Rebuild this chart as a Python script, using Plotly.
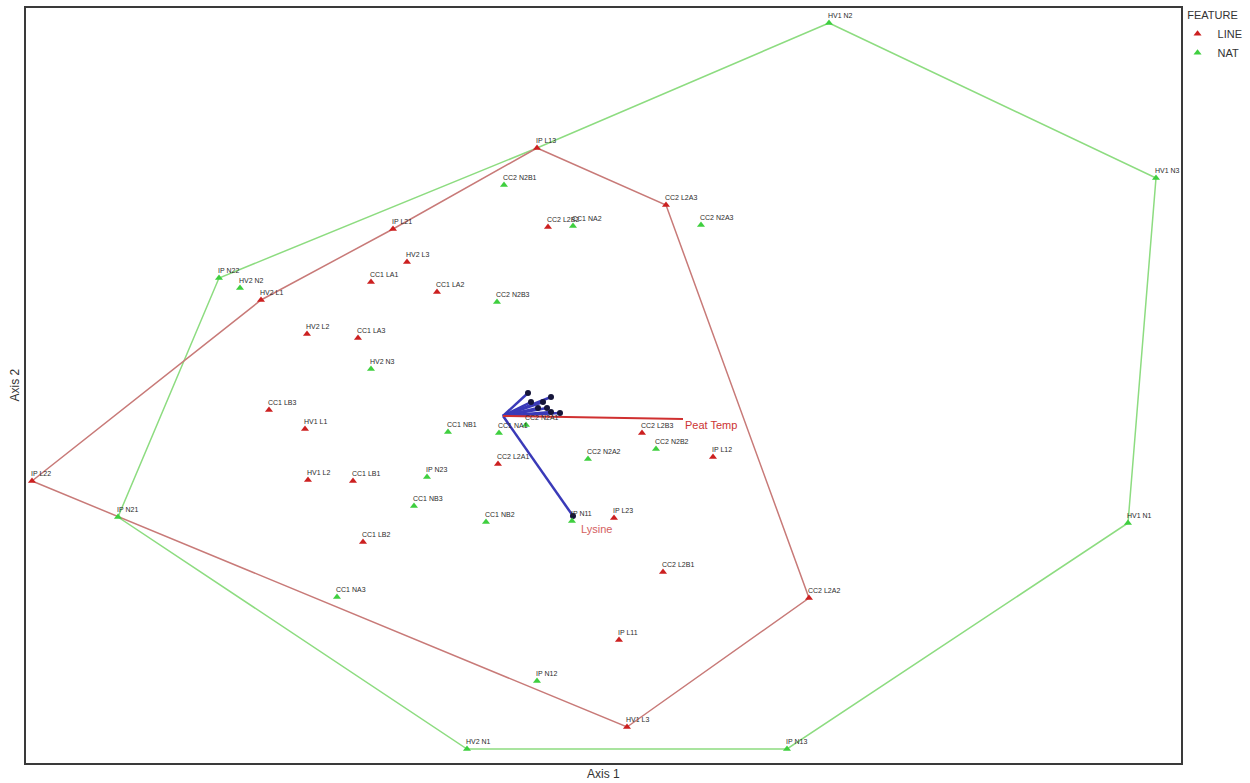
import plotly.graph_objects as go

# ---- data (ordination scores, Axis 1 / Axis 2) ----
line_names = ["IP L13", "CC2 L2A3", "IP L21", "CC2 L2B2", "HV2 L3", "CC1 LA1", "CC1 LA2",
              "HV2 L1", "HV2 L2", "CC1 LA3", "CC1 LB3", "HV1 L1", "HV1 L2", "CC1 LB1",
              "CC1 LB2", "CC2 L2B3", "IP L12", "CC2 L2A1", "IP L23", "IP L22", "CC2 L2B1",
              "CC2 L2A2", "IP L11", "HV1 L3"]
line_x = [0.34, 1.63, -1.10, 0.45, -0.96, -1.32, -0.66, -2.42, -1.96, -1.45, -2.34, -1.98,
          -1.95, -1.50, -1.40, 1.39, 2.10, -0.05, 1.11, -4.71, 1.60, 3.06, 1.16, 1.24]
line_y = [2.66, 2.09, 1.85, 1.87, 1.52, 1.32, 1.22, 1.14, 0.80, 0.76, 0.04, -0.15, -0.66,
          -0.67, -1.28, -0.19, -0.43, -0.50, -1.04, -0.67, -1.58, -1.84, -2.26, -3.13]

nat_names = ["HV1 N2", "HV1 N3", "CC2 N2B1", "CC1 NA2", "CC2 N2A3", "IP N22", "HV2 N2",
             "CC2 N2B3", "HV2 N3", "CC1 NB1", "CC1 NA1", "CC2 N2A1", "CC2 N2B2", "CC2 N2A2",
             "IP N23", "CC1 NB3", "CC1 NB2", "IP N11", "IP N21", "HV1 N1", "CC1 NA3",
             "IP N12", "HV2 N1", "IP N13"]
nat_x = [3.26, 6.53, 0.01, 0.70, 1.98, -2.84, -2.63, -0.06, -1.32, -0.55, -0.04, 0.23, 1.53,
         0.85, -0.76, -0.89, -0.17, 0.69, -3.85, 6.25, -1.66, 0.34, -0.36, 2.84]
nat_y = [3.91, 2.36, 2.29, 1.88, 1.89, 1.36, 1.26, 1.12, 0.45, -0.18, -0.19, -0.11, -0.35,
         -0.45, -0.63, -0.92, -1.08, -1.07, -1.03, -1.09, -1.83, -2.67, -3.35, -3.35]

# convex hull vertices (in drawing order)
line_hull_x = [0.34, 1.63, 3.06, 1.24, -4.71, -2.42, -1.10, 0.34]
line_hull_y = [2.66, 2.09, -1.84, -3.13, -0.67, 1.14, 1.85, 2.66]
nat_hull_x = [3.26, 6.53, 6.25, 2.84, -0.36, -3.85, -2.84, 0.34, 3.26]
nat_hull_y = [3.91, 2.36, -1.09, -3.35, -3.35, -1.03, 1.36, 2.66, 3.91]

# joint-plot vectors
vec_origin = (0.0, -0.02)
vec_x = [0.25, 0.48, 0.28, 0.40, 0.44, 0.35, 0.48, 0.57]
vec_y = [0.21, 0.17, 0.12, 0.12, 0.06, 0.06, 0.02, 0.01]
lysine_xy = (0.70, -1.02)
peat_xy = (1.80, -0.05)

X_RANGE = [-4.77, 6.78]
Y_RANGE = [-3.49, 4.06]

RED = "#cc2020"
GREEN = "#3fcf3f"
LBL = "#2a2a2a"
FONT = "Liberation Sans, Arial, sans-serif"

fig = go.Figure()

# hulls
fig.add_trace(go.Scatter(x=nat_hull_x, y=nat_hull_y, mode="lines",
                         line=dict(color="#8ddc80", width=1.5), showlegend=False, hoverinfo="skip"))
fig.add_trace(go.Scatter(x=line_hull_x, y=line_hull_y, mode="lines",
                         line=dict(color="#c87a78", width=1.5), showlegend=False, hoverinfo="skip"))

# vectors
vx, vy = [], []
for a, b in zip(vec_x, vec_y):
    vx += [vec_origin[0], a, None]
    vy += [vec_origin[1], b, None]
vx += [vec_origin[0], lysine_xy[0], None]
vy += [vec_origin[1], lysine_xy[1], None]
fig.add_trace(go.Scatter(x=vx, y=vy, mode="lines", line=dict(color="#3a3ab8", width=2.5),
                         showlegend=False, hoverinfo="skip"))
fig.add_trace(go.Scatter(x=[vec_origin[0], peat_xy[0]], y=[vec_origin[1], peat_xy[1]], mode="lines",
                         line=dict(color="#d03030", width=2), showlegend=False, hoverinfo="skip"))
fig.add_trace(go.Scatter(x=vec_x + [lysine_xy[0]], y=vec_y + [lysine_xy[1]], mode="markers",
                         marker=dict(color="#15153a", size=6), showlegend=False, hoverinfo="skip"))

# points
fig.add_trace(go.Scatter(x=line_x, y=line_y, mode="markers", name="LINE",
                         marker=dict(symbol="triangle-up", size=7, color=RED)))
fig.add_trace(go.Scatter(x=nat_x, y=nat_y, mode="markers", name="NAT",
                         marker=dict(symbol="triangle-up", size=7, color=GREEN)))

# point labels (above the marker, left-aligned at it)
for names, xs, ys in ((line_names, line_x, line_y), (nat_names, nat_x, nat_y)):
    for n, x, y in zip(names, xs, ys):
        fig.add_annotation(x=x, y=y, text=n, showarrow=False, xanchor="left", yanchor="bottom",
                           xshift=-3, yshift=2, font=dict(size=7, color=LBL, family=FONT))

# vector labels
fig.add_annotation(x=peat_xy[0], y=peat_xy[1], text="Peat Temp", showarrow=False,
                   xanchor="left", yanchor="middle", yshift=-6,
                   font=dict(size=11, color="#cc3333", family=FONT))
fig.add_annotation(x=lysine_xy[0], y=lysine_xy[1], text="Lysine", showarrow=False,
                   xanchor="left", yanchor="middle", xshift=6, yshift=-13,
                   font=dict(size=11, color="#d46060", family=FONT))

# axis titles
fig.add_annotation(x=0.5, y=0, xref="paper", yref="paper", text="Axis 1", showarrow=False,
                   yanchor="top", yshift=-2, font=dict(size=12, color="#333333", family=FONT))
fig.add_annotation(x=0, y=0.5, xref="paper", yref="paper", text="Axis 2", showarrow=False,
                   xanchor="right", xshift=-3, textangle=-90,
                   font=dict(size=12, color="#333333", family=FONT))

axis_common = dict(showgrid=False, zeroline=False, showticklabels=False, ticks="",
                   showline=True, mirror=True, linecolor="#3a3a3a", linewidth=2)
fig.update_xaxes(range=X_RANGE, **axis_common)
fig.update_yaxes(range=Y_RANGE, **axis_common)

fig.update_layout(
    width=1250, height=783,
    margin=dict(l=26, r=69, t=8, b=20, autoexpand=False),
    plot_bgcolor="white", paper_bgcolor="white",
    font=dict(family=FONT, color="#333333"),
    legend=dict(title=dict(text="FEATURE", side="top center", font=dict(size=11)),
                font=dict(size=11), x=0.997, xanchor="left", y=1.004, yanchor="top",
                itemwidth=30, tracegroupgap=0, bgcolor="rgba(0,0,0,0)"),
)

fig.write_html("out.html")
